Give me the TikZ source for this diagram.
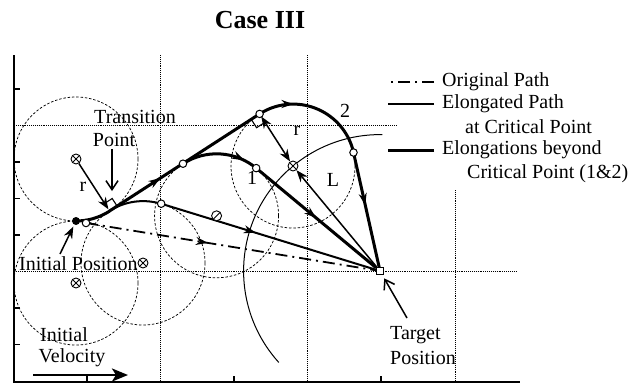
\documentclass[tikz,border=0pt]{standalone}
\usepackage{fontspec}
\setmainfont{Liberation Serif}
\usetikzlibrary{arrows.meta, decorations.markings}

\begin{document}
\begin{tikzpicture}[x=1pt, y=-1pt,
    lbl/.style={inner sep=0pt, font=\fontsize{20}{22}\selectfont},
    gridline/.style={densely dotted, line width=0.9pt},
    guide/.style={dash pattern=on 2.5pt off 1.8pt, line width=0.75pt},
    ctr/.style={circle, draw, line width=0.9pt, inner sep=0pt, minimum size=10pt, fill=white,
        path picture={\draw[line width=0.9pt]
            (path picture bounding box.north west) -- (path picture bounding box.south east)
            (path picture bounding box.north east) -- (path picture bounding box.south west);}},
    ctrone/.style={circle, draw, line width=0.9pt, inner sep=0pt, minimum size=10pt, fill=white,
        path picture={\draw[line width=0.9pt]
            (path picture bounding box.south west) -- (path picture bounding box.north east);}},
    tpt/.style={circle, draw, line width=1pt, inner sep=0pt, minimum size=7.5pt, fill=white},
    midarr/.style={postaction={decorate}, decoration={markings,
        mark=at position #1 with {\arrow{Stealth[length=12pt, width=8pt]}}}},
    thinpath/.style={line width=2pt},
    thickpath/.style={line width=3pt},
    origpath/.style={line width=1.8pt, dash pattern=on 12pt off 5pt on 2pt off 5pt},
    arr/.style={line width=1.5pt, -{Stealth[length=12pt, width=9pt]}},
    dblarr/.style={line width=1.5pt, {Stealth[length=12pt, width=9pt]}-{Stealth[length=12pt, width=9pt]}},
    barb/.style={line width=1.5pt, -{Straight Barb[length=9pt, width=12pt]}},
]
    \useasboundingbox (0,0) rectangle (637,386);

    % Title
    \node[font=\bfseries\fontsize{26}{28}\selectfont] (title) at (260,20) {Case III};

    % Axes and grid
    \draw[line width=1.8pt] (14,55) -- (14,382) -- (520,382);
    \foreach \y in {89, 162, 198.5, 235, 308, 344.5}
        \draw[line width=1.1pt] (14,\y) -- (20,\y);
    \foreach \x in {87, 234, 381}
        \draw[line width=1.1pt] (\x,382) -- (\x,376);
    \foreach \x in {160.5, 307.5}
        \draw[gridline] (\x,55) -- (\x,382);
    \draw[gridline] (455,190) -- (455,382);
    \draw[gridline] (14,125.5) -- (397,125.5);
    \draw[gridline] (14,271.5) -- (517,271.5);

    % Geometry
    \coordinate (S0) at (86,223);
    \coordinate (T) at (109.5,211);
    \coordinate (B) at (259.6,113.9);
    \coordinate (E) at (183,163.7);
    \coordinate (F) at (256.2,168.1);
    \coordinate (G) at (161.2,203.7);
    \coordinate (D) at (353.5,152.5);

    % Turning circles
    \foreach \cx/\cy in {76/159, 76/283, 143/263, 216.6/215.8, 293/166}
        \draw[guide] (\cx,\cy) circle[radius=62];
    \draw[line width=1pt] (380,271) ++(137.9:136.4) arc[start angle=137.9, end angle=271, radius=136.4];

    \node[draw, line width=1.3pt, inner sep=0pt, minimum size=6.5pt, fill=white] (tgt) at (380,271) {};
    \node[circle, fill, inner sep=0pt, minimum size=8pt] (p0) at (76,221) {};

    % Paths
    \draw[origpath, midarr=0.42] (S0) -- (tgt);
    \draw[thickpath] (p0.center) arc[start angle=90, end angle=57.2, radius=62];
    \draw[thinpath] (T) arc[start angle=-122.8, end angle=-72.9, radius=62];
    \draw[thinpath, midarr=0.44] (G) -- (tgt);
    \draw[thickpath, midarr=0.34] (T) -- (B);
    \draw[thickpath, midarr=0.82] (E) arc[start angle=-122.8, end angle=-50.3, radius=62];
    \draw[thickpath, midarr=0.5] (F) -- (tgt);
    \draw[thickpath, midarr=0.3] (B) arc[start angle=-122.7, end angle=-12.6, radius=62];
    \draw[thickpath, midarr=0.46] (D) -- (tgt);

    % Centres and tangent points
    \node[ctr] (c1) at (76,159) {};
    \node[ctr] (c0) at (76,283) {};
    \node[ctr] (c2) at (143,263) {};
    \node[ctr] (c3) at (293,166) {};
    \node[ctrone] (q1) at (216.6,215.8) {};
    \foreach \p in {S0, G, E, F, B, D}
        \node[tpt] (o\p) at (\p) {};

    % Radii and right angles
    \draw[arr, shorten >=2pt] (c1) -- (T);
    \draw[dblarr, shorten <=3pt] (B) -- (c3);
    \draw[arr] (tgt) -- (c3);
    \draw[line width=1.1pt] (T) ++(7.6,-4.9) -- ++(-4.9,-7.6) -- ++(-7.6,4.9);
    \draw[line width=1.1pt] (B) ++(-8.4,5.4) -- ++(5.4,8.4) -- ++(8.4,-5.4);

    % Labels
    \node[lbl] (trans) at (135,117) {Transition};
    \node[lbl] (transpt) at (114,140) {Point};
    \coordinate (tphead) at (112,191);
    \draw[barb, shorten <=2pt] (transpt.south -| tphead) -- (tphead);
    \node[lbl] (r1) at (83,187) {r};
    \node[lbl] (r3) at (297,131) {r};
    \node[lbl] (ell) at (333,180) {L};
    \node[lbl] (one) at (252,178) {1};
    \node[lbl] (two) at (345,111) {2};
    \node[lbl, anchor=west] (inipos) at (19,264) {Initial Position};
    \coordinate (ipa) at (60,254);
    \draw[arr, shorten >=2pt] (ipa) -- (p0);
    \node[lbl] (ini) at (64,335) {Initial};
    \node[lbl] (vel) at (72,358) {Velocity};
    \coordinate (v0) at (33,375);
    \coordinate (v1) at (128,375);
    \draw[line width=2.6pt, -{Stealth[length=16pt, width=13pt, inset=4pt]}] (v0) -- (v1);
    \node[lbl, anchor=west] (tgtxt) at (390,335) {Target};
    \node[lbl, anchor=west] (tgpos) at (390,358) {Position};
    \coordinate (tga) at (407,318);
    \draw[barb, shorten >=4pt] (tga) -- (tgt);

    % Legend
    \node[lbl, anchor=west] (leg1) at (442,82) {Original Path};
    \node[lbl, anchor=west] (leg2) at (442,104) {Elongated Path};
    \node[lbl, anchor=west] (leg2b) at (465,127) {at Critical Point};
    \node[lbl, anchor=west] (leg3) at (442,150) {Elongations beyond};
    \node[lbl, anchor=west] (leg3b) at (467,174) {Critical Point (1\&2)};
    \draw[origpath] ([xshift=-8pt]leg1.west) -- ++(-46,0);
    \draw[thinpath] ([xshift=-8pt]leg2.west) -- ++(-46,0);
    \draw[thickpath] ([xshift=-8pt]leg3.west) -- ++(-46,0);
\end{tikzpicture}
\end{document}
